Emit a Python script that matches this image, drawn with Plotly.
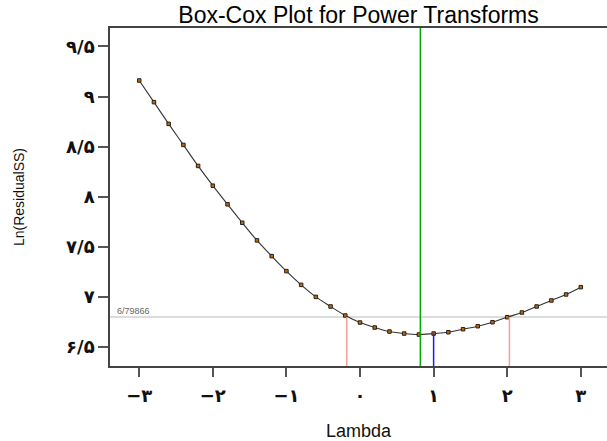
import plotly.graph_objects as go

lambdas = [-3.0, -2.8, -2.6, -2.4, -2.2, -2.0, -1.8, -1.6, -1.4, -1.2, -1.0, -0.8, -0.6, -0.4, -0.2,
           0.0, 0.2, 0.4, 0.6, 0.8, 1.0, 1.2, 1.4, 1.6, 1.8, 2.0, 2.2, 2.4, 2.6, 2.8, 3.0]
ln_rss = [9.16, 8.944, 8.727, 8.517, 8.307, 8.11, 7.924, 7.74, 7.564, 7.407, 7.257, 7.12, 7.00, 6.904, 6.814,
          6.744, 6.694, 6.654, 6.634, 6.624, 6.634, 6.647, 6.677, 6.707, 6.747, 6.797, 6.844, 6.904, 6.964, 7.024, 7.097]

lambda_est = 0.82
lambda_rounded = 1.0
ln_rss_rounded = 6.634
ci_low = -0.18
ci_high = 2.03
ci_level = 6.79866
ci_label = "6/79866"

x_tickvals = [-3, -2, -1, 0, 1, 2, 3]
x_ticktext = ["−۳", "−۲", "−۱", "۰", "۱", "۲", "۳"]
y_tickvals = [6.5, 7, 7.5, 8, 8.5, 9, 9.5]
y_ticktext = ["۶/۵", "۷", "۷/۵", "۸", "۸/۵", "۹", "۹/۵"]

x_range = [-3.397, 3.356]
y_range = [6.31, 9.684]

fig = go.Figure()

fig.add_trace(go.Scatter(
    x=lambdas, y=ln_rss, mode="lines+markers",
    line=dict(color="#333333", width=1.1, shape="spline"),
    marker=dict(symbol="square", size=3.5, color="#c86400", line=dict(color="#222222", width=1)),
    showlegend=False, hoverinfo="skip"))

shapes = [
    dict(type="line", xref="x", yref="y", x0=x_range[0], x1=x_range[1], y0=ci_level, y1=ci_level,
         line=dict(color="#dcdcdc", width=2), layer="below"),
    dict(type="line", xref="x", yref="y", x0=ci_low, x1=ci_low, y0=y_range[0], y1=ci_level,
         line=dict(color="#f4a0a0", width=1.5)),
    dict(type="line", xref="x", yref="y", x0=ci_high, x1=ci_high, y0=y_range[0], y1=ci_level,
         line=dict(color="#f4a0a0", width=1.5)),
    dict(type="line", xref="x", yref="y", x0=lambda_rounded, x1=lambda_rounded, y0=y_range[0], y1=ln_rss_rounded,
         line=dict(color="#1a1aff", width=1.5)),
    dict(type="line", xref="x", yref="paper", x0=lambda_est, x1=lambda_est, y0=0, y1=1,
         line=dict(color="#00aa00", width=1.5)),
]

fig.update_layout(
    width=607, height=441,
    margin=dict(l=110, r=0, t=28, b=75, autoexpand=False),
    plot_bgcolor="white", paper_bgcolor="white",
    shapes=shapes,
    title=dict(text="Box-Cox Plot for Power Transforms", x=0.5907, xanchor="center",
               y=0.966, yanchor="middle", automargin=False, pad=dict(t=0, b=0),
               font=dict(family="Liberation Sans, Arial", size=23, color="#000000")),
    annotations=[dict(x=x_range[0], y=ci_level, xref="x", yref="y", text=ci_label, showarrow=False,
                      xanchor="left", yanchor="bottom", xshift=5, yshift=-1,
                      font=dict(family="Liberation Sans, Arial", size=9, color="#666666"))],
    xaxis=dict(range=x_range, tickvals=x_tickvals, ticktext=x_ticktext, showgrid=False, zeroline=False,
               showline=True, linecolor="#444444", linewidth=1.5, mirror=True, automargin=False,
               ticks="outside", ticklen=9, tickwidth=1.5, tickcolor="#555555", ticklabelstandoff=4,
               tickfont=dict(family="DejaVu Sans", size=18, color="#111111", weight="bold"),
               title=dict(text="Lambda", standoff=20,
                          font=dict(family="Liberation Sans, Arial", size=18, color="#111111"))),
    yaxis=dict(range=y_range, tickvals=y_tickvals, ticktext=y_ticktext, showgrid=False, zeroline=False,
               showline=True, linecolor="#444444", linewidth=1.5, mirror=False, automargin=False,
               ticks="outside", ticklen=10, tickwidth=1.5, tickcolor="#555555",
               tickfont=dict(family="DejaVu Sans", size=18, color="#111111", weight="bold"),
               title=dict(text="Ln(ResidualSS)", standoff=38,
                          font=dict(family="Liberation Sans, Arial", size=14, color="#111111"))),
)

fig.write_html("out.html", config={"displayModeBar": False},
               post_script="document.body.style.margin='0';document.body.style.overflow='hidden';")
